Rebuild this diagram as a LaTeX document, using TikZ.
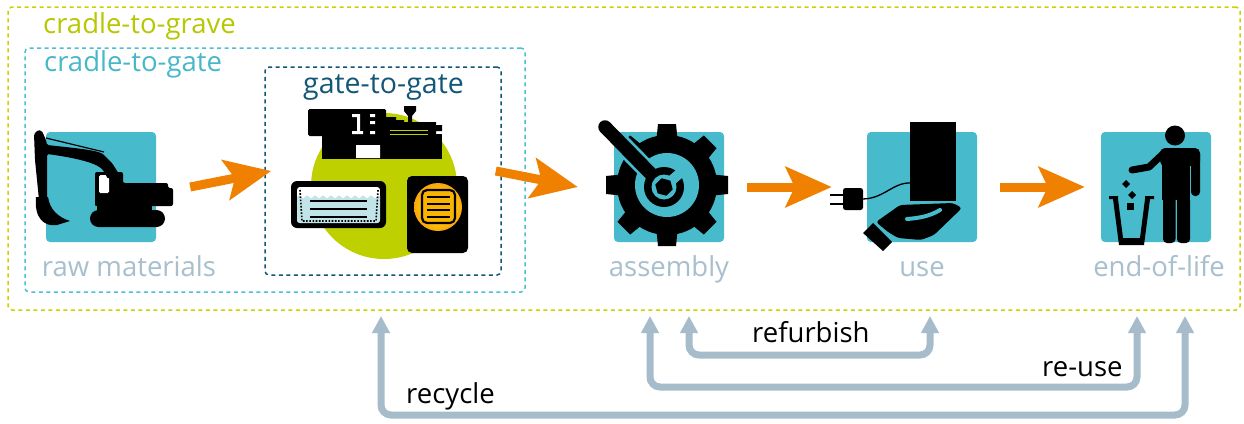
\documentclass[tikz,border=0pt]{standalone}
\usepackage{fontspec}
\setmainfont{Open Sans}
\usetikzlibrary{arrows.meta,shapes.geometric}

\definecolor{graveline}{RGB}{200,212,0}
\definecolor{gravetext}{RGB}{182,200,0}
\definecolor{gateline}{RGB}{75,192,210}
\definecolor{gatetext}{RGB}{72,184,200}
\definecolor{gtgblue}{RGB}{18,86,120}
\definecolor{tilecol}{RGB}{71,186,204}
\definecolor{stagegray}{RGB}{168,191,205}
\definecolor{flow}{RGB}{240,128,0}
\definecolor{loopgray}{RGB}{166,188,203}
\definecolor{lime}{RGB}{190,208,0}
\definecolor{water}{RGB}{193,228,232}
\definecolor{glowred}{RGB}{228,58,40}
\definecolor{gloworange}{RGB}{245,140,20}
\definecolor{glowyellow}{RGB}{255,214,0}
\definecolor{panelfill}{RGB}{250,180,0}

\pgfdeclareradialshading{glow}{\pgfpoint{0bp}{0bp}}{%
  color(0bp)=(glowyellow); color(12bp)=(glowyellow); color(32bp)=(gloworange);
  color(50bp)=(glowred)}

\tikzset{
  scopebox/.style={dash pattern=on 4pt off 3.5pt, line width=1.5pt,
    rounded corners=4pt, inner sep=0pt},
  stagetile/.style={fill=tilecol, rounded corners=4pt, minimum width=110pt,
    minimum height=110pt, inner sep=0pt},
  bigtext/.style={font=\fontsize{27.5}{32}\selectfont, inner sep=0pt},
  stagelabel/.style={bigtext, text=stagegray, anchor=base},
  flowarrow/.style={draw=flow, line width=9pt,
    -{Stealth[length=46pt,width=40pt,inset=9pt]}},
  looparrow/.style={draw=loopgray, line width=7pt, rounded corners=10pt,
    {Triangle[length=17pt,width=17pt]}-{Triangle[length=17pt,width=17pt]}},
}

\begin{document}
\begin{tikzpicture}[x=1pt,y=-1pt]
\path[use as bounding box, fill=white] (0,0) rectangle (1244,423);

% ---- system boundaries ----
\node[scopebox, draw=graveline, minimum width=1232pt, minimum height=303pt]
  (grave) at (624,158.5) {};
\node[scopebox, draw=gateline, minimum width=500pt, minimum height=244pt]
  (cgate) at (275,170) {};
\node[scopebox, draw=gtgblue, minimum width=236pt, minimum height=208pt]
  (gtg) at (383,171) {};
\node[bigtext, anchor=base west, text=gravetext] (gravelabel) at (43,33) {cradle-to-grave};
\node[bigtext, anchor=base west, text=gatetext] (cgatelabel) at (44,71) {cradle-to-gate};
\node[bigtext, font=\fontsize{28.5}{33}\selectfont, anchor=base west, text=gtgblue]
  (gtglabel) at (303,93) {gate-to-gate};

% ---- stage tiles ----
\node[stagetile] (raw) at (101,187) {};
\node[stagetile] (asm) at (669,187) {};
\node[stagetile] (use) at (922,187) {};
\node[stagetile] (eol) at (1156,187) {};

\node[stagelabel] (rawlabel) at (129,276) {raw materials};
\node[stagelabel] (asmlabel) at (669,276) {assembly};
\node[stagelabel] (uselabel) at (922,276) {use};
\node[stagelabel] (eollabel) at (1159,276) {end-of-life};

% ---- excavator ----
\fill[rounded corners=8.5pt] (90,210) rectangle (165,227);
\fill (97,203) rectangle (152,211);
\fill[rounded corners=2pt] (95,205) -- (95,172) -- (123,172) -- (123,183)
  -- (168,183) -- (168,188) -- (173,188) -- (173,206) -- (95,206) -- cycle;
\fill[white, rounded corners=1.5pt] (99,175) rectangle (109,193);
\fill[rounded corners=1.5pt] (34,134) -- (38,130) -- (42,131) -- (46,140) -- (47,145)
  .. controls (75,148) and (95,150) .. (103,154) -- (112,163) -- (119,174)
  -- (108,179) -- (103,170) .. controls (95,162) and (70,157) .. (47,154)
  -- (47,200) -- (39,200) -- (35,160) -- cycle;
\draw[line width=1.2pt] (46,138) -- (104,152);
\fill (36,197) -- (48,197) .. controls (50,210) and (58,217) .. (70,221)
  -- (57,225) .. controls (44,227) and (34,218) .. (36,197) -- cycle;

% ---- production cell ----
\fill[lime] (384,186) circle (73pt);
\fill[rounded corners=1.5pt] (308,109) rectangle (386,136);
\fill (322,134) rectangle (442,159);
\fill (384,117) -- (396,117) -- (396,120) -- (404,120) -- (404,122) -- (436,122)
  -- (436,125) -- (442,125) -- (442,131) -- (436,131) -- (436,136) -- (384,136) -- cycle;
\fill (404,106) -- (416,106) -- (416,111) -- (412,116) -- (412,124) -- (408,124)
  -- (408,116) -- (404,111) -- cycle;
\draw[lime, line width=1pt] (390,130.5) -- (428,130.5) (390,134.5) -- (428,134.5);
\fill[white] (352,114) rectangle (360,117) (357,114) rectangle (360,134)
  (352,131) rectangle (363,134) (370,114) rectangle (375,117)
  (370,121) rectangle (375,124) (370,131) rectangle (375,134)
  (356,145) rectangle (380,158);
% cooling tray
\fill[rounded corners=6pt] (291,181) rectangle (386,228);
\begin{scope}
  \clip[rounded corners=3pt] (297,187) rectangle (380,223);
  \fill[white] (297,187) rectangle (380,223);
  \fill[water] (297,197) \foreach \k in {1,...,11} {
      sin ++(2,-1.6) cos ++(2,1.6) sin ++(2,1.6) cos ++(2,-1.6) }
    |- (297,223) -- cycle;
\end{scope}
\draw[line width=1.6pt, dash pattern=on 1.6pt off 1.6pt]
  (300,190) -- (302,221) -- (376,221) -- (378,190);
\foreach \yy in {201,209,217} \draw[line width=1.4pt] (310,\yy) -- (367,\yy);
% oven
\fill[rounded corners=5pt] (407,176) rectangle (468,253);
\shade[shading=glow] (438,207) circle (24pt);
\filldraw[fill=panelfill, draw=black, line width=2.2pt, rounded corners=5pt]
  (422,190) rectangle (455,223);
\foreach \yy in {197,204,210,217} \draw[line width=1.3pt] (427,\yy) -- (450,\yy);

% ---- gear and wrench ----
\begin{scope}[shift={(667,185)}]
  \fill (0,0) circle (50pt);
  \foreach \a in {0,45,...,315}
    \fill[rotate=\a] (-10.5,-46) -- (-9,-61) -- (9,-61) -- (10.5,-46) -- cycle;
  \fill[tilecol] (0,0) circle (32pt);
\end{scope}
\begin{scope}
  \clip (667,185) circle (62pt);
  \draw[tilecol, line width=19pt] (605,127) -- (652,175);
\end{scope}
\draw[line width=13.5pt, line cap=round] (605,127) -- (652,175);
\fill (664,187) circle (20pt);
\fill[tilecol] (664,187) circle (12.5pt);
\fill[tilecol, rotate around={41:(664,187)}] (664,182) rectangle (690,192);
\fill (664,187) +(15:9) -- +(75:9) -- +(135:9) -- +(195:9) -- +(255:9) -- +(315:9) -- cycle;

% ---- device in hand ----
\fill (910,122) rectangle (956,201);
\draw[line width=1.3pt] (911,183) .. controls (893,182) and (884,199) .. (862,199);
\fill[rounded corners=2.5pt] (843,188) rectangle (863,210);
\draw[line width=2.4pt] (830,195) -- (844,195) (830,204) -- (844,204);
\fill[rounded corners=3pt] (876,222) -- (900,205) -- (953,203) -- (962,208)
  -- (934,235) -- (921,240) -- (898,238) -- (888,232) -- cycle;
\draw[tilecol, line width=4pt, line cap=round]
  (907,219) .. controls (920,218) and (930,216) .. (940,210);
\fill (863,233) -- (873,223) -- (892,242) -- (883,251) -- cycle;

% ---- person and bin ----
\fill (1175,135.5) circle (10pt);
\fill[rounded corners=5pt] (1160,148) rectangle (1200,166);
\fill[rounded corners=4pt] (1191,150) rectangle (1200,196);
\fill (1162,156) rectangle (1190,200);
\fill[rounded corners=4pt] (1163,190) rectangle (1175.5,243);
\fill[rounded corners=4pt] (1177,190) rectangle (1190,243);
\draw[tilecol, line width=1.5pt] (1190.3,166) -- (1190.3,200);
\draw[line width=7pt, line cap=round, line join=round]
  (1165,152) -- (1149,167) -- (1132,170);
\fill (1109,196) -- (1118,196) -- (1118,199) -- (1123,238) -- (1140,238)
  -- (1145,199) -- (1145,196) -- (1154,196) -- (1154,199) -- (1150,199)
  -- (1144,245) -- (1119,245) -- (1113,199) -- (1109,199) -- cycle;
\fill (1126,180) -- (1130,184) -- (1126,188) -- (1122,184) -- cycle;
\fill (1132,191) -- (1136,195) -- (1132,199) -- (1128,195) -- cycle;
\fill (1127,203) rectangle (1134,210);

% ---- material flow ----
\draw[flowarrow] ([xshift=34pt]raw.east) -- ([xshift=7pt]gtg.west);
\draw[flowarrow] ([xshift=-6pt]gtg.east) -- ([xshift=-36pt]asm.west);
\draw[flowarrow] ([xshift=23pt]asm.east) -- ([xshift=-35pt]use.west);
\draw[flowarrow] ([xshift=23pt]use.east) -- ([xshift=-16pt]eol.west);

% ---- loops back ----
\coordinate (recycle-a) at (381,316);
\coordinate (recycle-b) at (1185,316);
\coordinate (reuse-a) at (650,316);
\coordinate (reuse-b) at (1137,316);
\coordinate (refurb-a) at (689,316);
\coordinate (refurb-b) at (930,316);
\draw[looparrow] (recycle-a) -- ++(0,99) -| (recycle-b);
\draw[looparrow] (reuse-a) -- ++(0,71) -| (reuse-b);
\draw[looparrow] (refurb-a) -- ++(0,39) -| (refurb-b);
\node[bigtext, anchor=base west] (refurblabel) at (752,342) {refurbish};
\node[bigtext, anchor=base west] (reuselabel) at (1042,376) {re-use};
\node[bigtext, anchor=base west] (recyclelabel) at (406,403) {recycle};
\end{tikzpicture}
\end{document}
